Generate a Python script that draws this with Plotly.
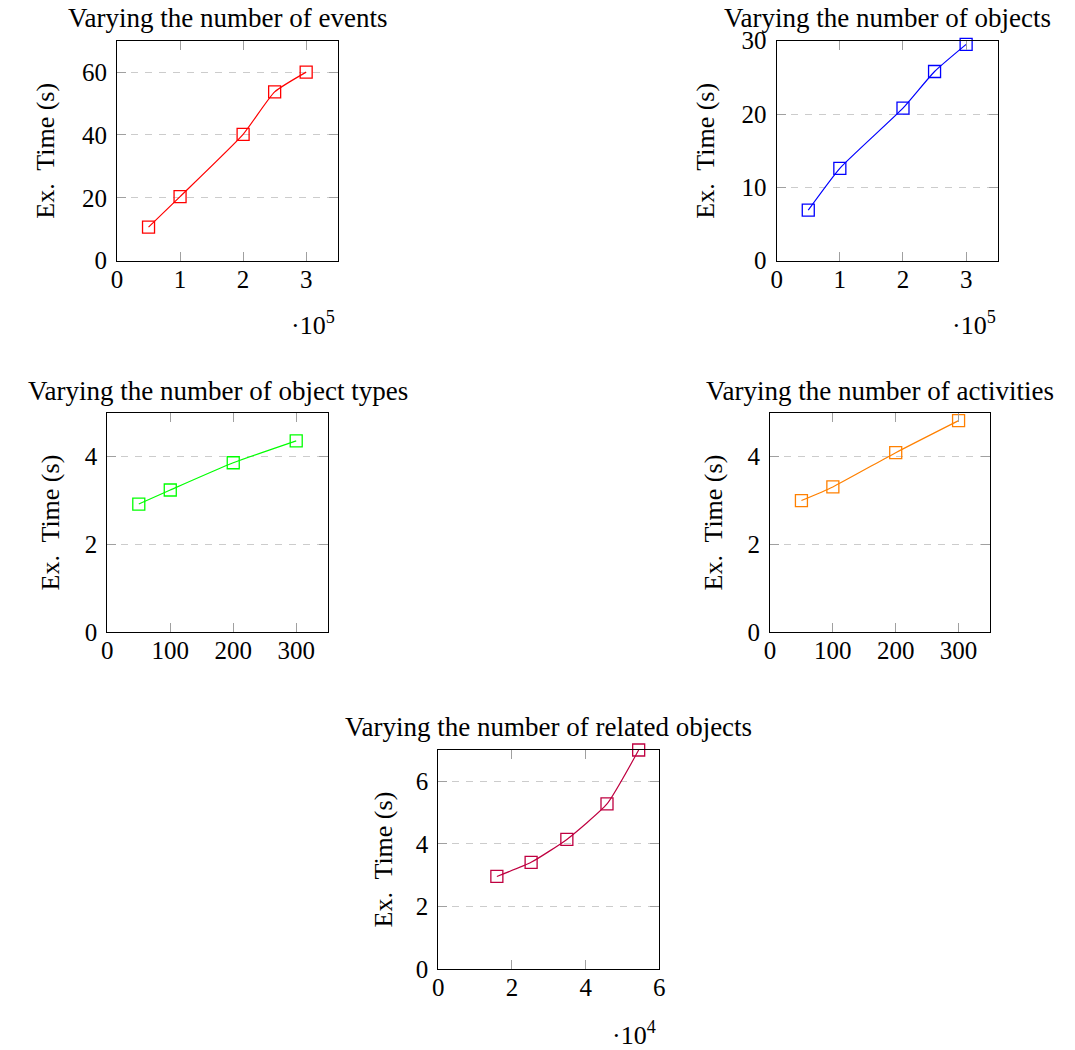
import plotly.graph_objects as go

# ---------------- data ----------------
events_x = [0.5e5, 1e5, 2e5, 2.5e5, 3e5]
events_t = [10.7, 20.4, 40.2, 53.7, 60.0]

objects_x = [0.5e5, 1e5, 2e5, 2.5e5, 3e5]
objects_t = [6.9, 12.6, 20.8, 25.8, 29.5]

otypes_x = [50, 100, 200, 300]
otypes_t = [2.92, 3.24, 3.86, 4.36]

activities_x = [50, 100, 200, 300]
activities_t = [3.0, 3.31, 4.09, 4.82]

related_x = [1.59e4, 2.52e4, 3.49e4, 4.58e4, 5.44e4]
related_t = [2.96, 3.41, 4.14, 5.27, 6.99]

titles = ["Varying the number of events", "Varying the number of objects",
          "Varying the number of object types", "Varying the number of activities",
          "Varying the number of related objects"]
y_title = "Ex.&nbsp; Time (s)"

x5_tickvals = [0, 1e5, 2e5, 3e5]
x5_ticktext = ["0", "1", "2", "3"]
x100_tickvals = [0, 100, 200, 300]
x4_tickvals = [0, 2e4, 4e4, 6e4]
x4_ticktext = ["0", "2", "4", "6"]

y1_ticks = [0, 20, 40, 60]
y2_ticks = [0, 10, 20, 30]
y34_ticks = [0, 2, 4]
y5_ticks = [0, 2, 4, 6]

colors = ["#ff0000", "#0000ff", "#00ff00", "#ff8000", "#bf0040"]

# ---------------- layout geometry ----------------
W, H = 1075, 1050
FONT = "Liberation Serif, Times New Roman, serif"
FS_TICK = 25
FS_TITLE = 27
FS_LABEL = 26

# plot boxes in pixels: (left, right, top, bottom)
boxes = [
    (117, 337.7, 40.7, 260.7),
    (776.7, 997.7, 40.7, 260.7),
    (107.3, 327.7, 412.7, 632.3),
    (770, 990, 412.7, 632.3),
    (438.3, 659.3, 749.7, 969.3),
]

fig = go.Figure()

series = [
    (events_x, events_t), (objects_x, objects_t), (otypes_x, otypes_t),
    (activities_x, activities_t), (related_x, related_t)
]

xcfg = [
    dict(range=[0, 3.5e5], tickvals=x5_tickvals, ticktext=x5_ticktext),
    dict(range=[0, 3.5e5], tickvals=x5_tickvals, ticktext=x5_ticktext),
    dict(range=[0, 350], tickvals=x100_tickvals, ticktext=[str(v) for v in x100_tickvals]),
    dict(range=[0, 350], tickvals=x100_tickvals, ticktext=[str(v) for v in x100_tickvals]),
    dict(range=[0, 6e4], tickvals=x4_tickvals, ticktext=x4_ticktext),
]
ycfg = [
    dict(range=[0, 70], tickvals=y1_ticks),
    dict(range=[0, 30], tickvals=y2_ticks),
    dict(range=[0, 5], tickvals=y34_ticks),
    dict(range=[0, 5], tickvals=y34_ticks),
    dict(range=[0, 7], tickvals=y5_ticks),
]

common_axis = dict(
    showline=True, linecolor="black", linewidth=1.2, mirror="ticks",
    ticks="inside", ticklen=9, tickwidth=1.2, tickcolor="#a0a0a0",
    tickfont=dict(family=FONT, size=FS_TICK, color="black"),
    zeroline=False, fixedrange=True, automargin=False,
)

layout = dict(
    width=W, height=H, margin=dict(l=0, r=0, t=0, b=0, pad=0, autoexpand=False),
    paper_bgcolor="white", plot_bgcolor="white", showlegend=False,
    font=dict(family=FONT, size=FS_TICK, color="black"),
)

annotations = []
for i, ((xs, ys), (l, r, t, b)) in enumerate(zip(series, boxes)):
    n = "" if i == 0 else str(i + 1)
    xa = "x" + n
    ya = "y" + n
    fig.add_trace(go.Scatter(
        x=xs, y=ys, xaxis=xa, yaxis=ya, mode="lines+markers",
        line=dict(color=colors[i], width=1.2, shape="spline", smoothing=0.5),
        marker=dict(symbol="square-open", size=12, color=colors[i],
                    line=dict(width=1.3, color=colors[i])),
        hoverinfo="skip", cliponaxis=False,
    ))
    layout["xaxis" + n] = dict(common_axis, domain=[l / W, r / W], anchor=ya,
                               showgrid=False, ticklabelstandoff=-4, **xcfg[i])
    layout["yaxis" + n] = dict(common_axis, domain=[1 - b / H, 1 - t / H], anchor=xa,
                               showgrid=True, gridcolor="#cccccc", gridwidth=1.2,
                               griddash="7px,7px", ticklabelstandoff=4, **ycfg[i])

title_pos = [(227.3, 18), (887, 18), (217.5, 391), (880, 391), (548.8, 727)]
for txt, (cx, cy) in zip(titles, title_pos):
    annotations.append(dict(text=txt, x=cx / W, y=1 - cy / H, xref="paper", yref="paper",
                            xanchor="center", yanchor="middle", showarrow=False,
                            font=dict(family=FONT, size=FS_TITLE, color="black")))

ytitle_pos = [(46, 150.7), (706, 150.7), (50, 522.5), (713, 522.5), (383, 859.5)]
for cx, cy in ytitle_pos:
    annotations.append(dict(text=y_title, x=cx / W, y=1 - cy / H, xref="paper", yref="paper",
                            xanchor="center", yanchor="middle", textangle=-90, showarrow=False,
                            font=dict(family=FONT, size=FS_LABEL, color="black")))

mult_pos = [("·10<sup>5</sup>", 337, 323), ("·10<sup>5</sup>", 997.7, 323), ("·10<sup>4</sup>", 658, 1033)]
for txt, rx, cy in mult_pos:
    annotations.append(dict(text=txt, x=rx / W, y=1 - cy / H, xref="paper", yref="paper",
                            xanchor="right", yanchor="middle", showarrow=False,
                            font=dict(family=FONT, size=FS_LABEL, color="black")))

layout["annotations"] = annotations
fig.update_layout(**layout)
fig.write_html("out.html")
